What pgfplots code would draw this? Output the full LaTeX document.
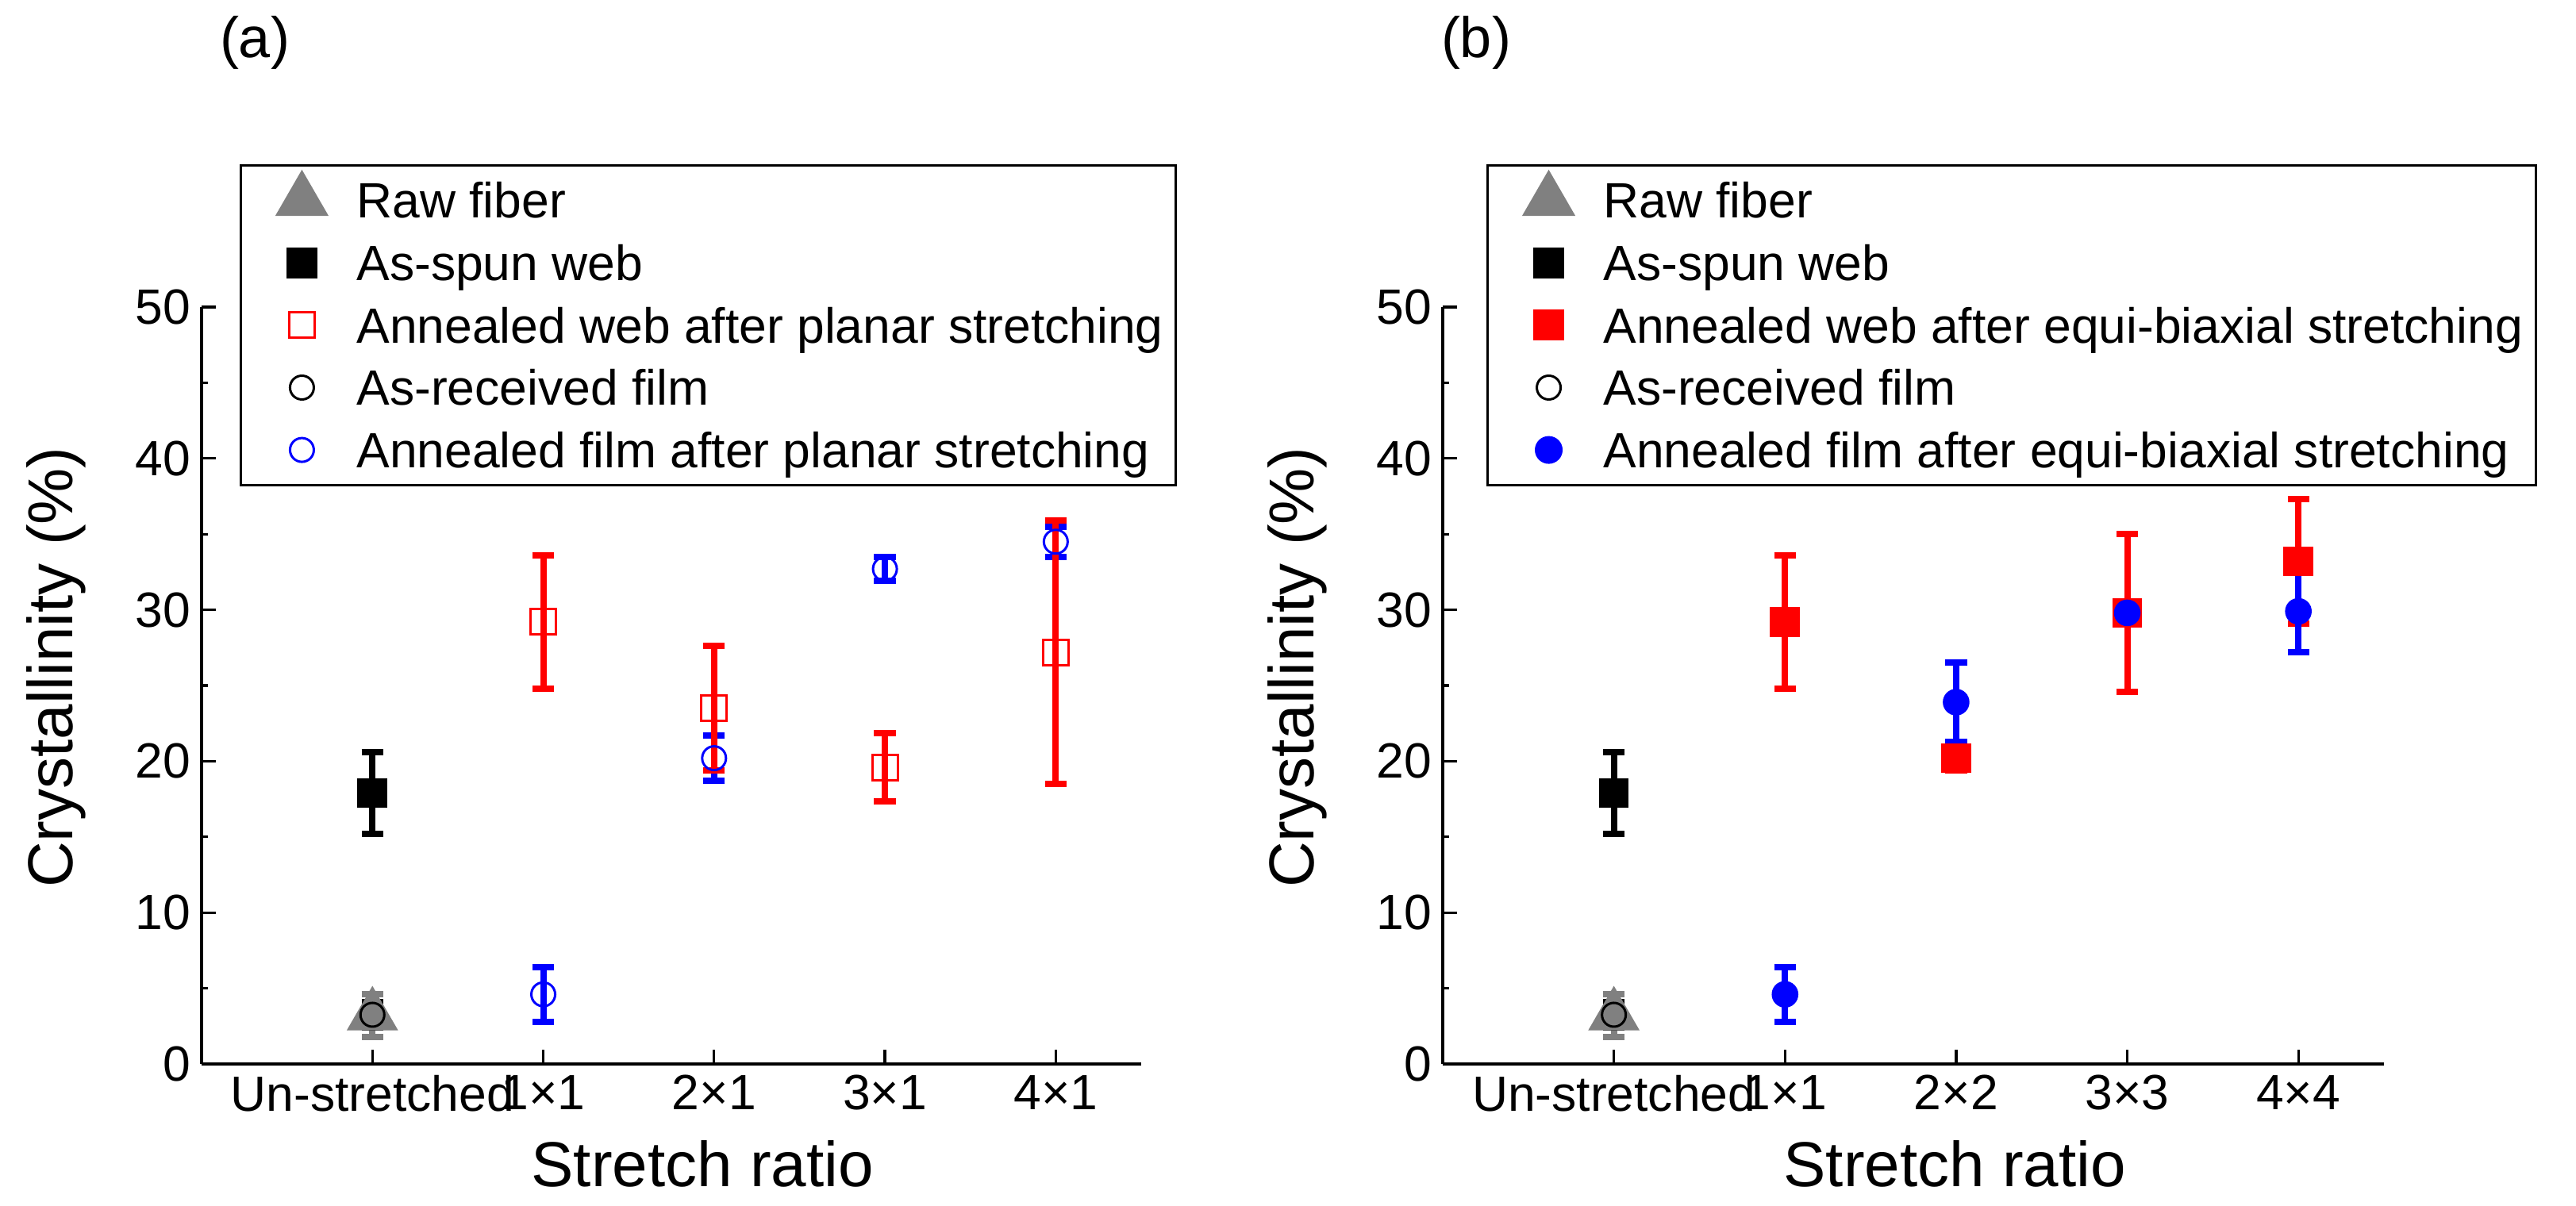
\documentclass[border=0pt]{standalone}
\usepackage{fontspec}
\setmainfont{Liberation Sans}
\usepackage{pgfplots}
\pgfplotsset{compat=1.18}
\definecolor{mygray}{RGB}{128,128,128}
\definecolor{myred}{RGB}{255,0,0}
\definecolor{myblue}{RGB}{0,0,255}
\newcommand{\tfont}{\fontsize{15.6}{18}\selectfont}
\newcommand{\lfont}{\fontsize{20}{24}\selectfont}
\pgfplotsset{
  panel/.style={
    scale only axis, height=238.5pt,
    xmin=-1, xmax=4.5, ymin=0, ymax=50,
    axis x line=bottom, axis y line=left,
    axis line style={line width=1pt, -},
    tick align=inside,
    xtick={0,1,2,3,4},
    ytick={0,10,...,50},
    minor y tick num=1,
    major tick length=4.6pt, minor tick length=2.1pt,
    tick style={line width=0.8pt, black},
    /pgf/number format/assume math mode=true,
    ticklabel style={font=\tfont},
    label style={font=\lfont},
    xlabel={Stretch ratio}, ylabel={Crystallinity (\%)},
    ylabel style={at={(axis description cs:-0.1546,0.524)}, anchor=center},
    clip=false,
    legend style={anchor=north west, draw=black, line width=0.75pt,
      inner xsep=4pt, inner ysep=5.5pt, font=\tfont,
      /tikz/row sep=8.55pt, /tikz/column sep=7.25pt,
      nodes={text height=11.1pt, text depth=0pt, inner sep=0pt},
      cells={anchor=west}},
  },
  limg/.style={legend image code/.code={\path[draw=none,fill=none] (-15.25pt,-5pt) rectangle (10pt,5pt); \draw[##1,overlay] plot coordinates {(0pt,0pt)};}},
  eb/.style={error bars/y dir=both, error bars/y explicit,
     error bars/error bar style={line width=2pt},
     error bars/error mark options={rotate=90, line width=2pt, mark size=3.4pt}},
}
\begin{document}
\begin{tikzpicture}
\path[use as bounding box] (0,0) rectangle (811.5pt,380pt);
\node[font=\fontsize{18}{20}\selectfont] at (80.25pt,366.5pt) {(a)};
\node[font=\fontsize{18}{20}\selectfont] at (465pt,366.5pt) {(b)};
% ---------------- panel (a)
\begin{axis}[panel, width=296pt, at={(63.5pt,44.75pt)}, anchor=south west,
  xticklabels={Un-stretched,1×1,2×1,3×1,4×1},
  xlabel style={at={(axis description cs:0.533,-0.132)}, anchor=center},
  legend style={at={(0.0405,1.1887)}}]
\addlegendimage{only marks, mark=triangle*, mark size=8.95pt, mygray, mark options={fill=mygray, draw=mygray}, limg}
\addlegendentry{Raw fiber}
\addlegendimage{only marks, mark=square*, mark size=4.5pt, black, mark options={fill=black}, limg}
\addlegendentry{As-spun web}
\addlegendimage{only marks, mark=square, mark size=4pt, myred, mark options={fill=white, line width=0.75pt}, limg}
\addlegendentry{Annealed web after planar stretching}
\addlegendimage{only marks, mark=o, mark size=3.75pt, black, mark options={fill=white, line width=0.75pt}, limg}
\addlegendentry{As-received film}
\addlegendimage{only marks, mark=o, mark size=3.75pt, myblue, mark options={fill=white, line width=0.75pt}, limg}
\addlegendentry{Annealed film after planar stretching}
% data
\addplot[forget plot, only marks, mygray, mark=triangle*, mark size=8.95pt, mark options={fill=mygray, draw=mygray}, eb]
  coordinates {(0,3.2) +- (0,1.4)};
\addplot[forget plot, only marks, black, mark=square*, mark size=4.5pt, mark options={fill=black}, eb]
  coordinates {(0,17.9) +- (0,2.7)};
\addplot[forget plot, only marks, black, mark=o, mark size=3.75pt, mark options={fill=white, line width=0.75pt}, eb]
  coordinates {(0,3.25) +- (0,0.85)};
\addplot[forget plot, only marks, myblue, mark=o, mark size=3.75pt, mark options={fill=white, line width=0.75pt}, eb]
  coordinates {(1,4.6) +- (0,1.8) (2,20.2) +- (0,1.5) (3,32.7) +- (0,0.8) (4,34.5) +- (0,1.0)};
\addplot[forget plot, only marks, myred, mark=square, mark size=4pt, mark options={fill=white, line width=0.75pt}, eb]
  coordinates {(1,29.2) +- (0,4.4) (2,23.5) +- (0,4.1) (3,19.6) +- (0,2.25) (4,27.2) +- (0,8.7)};
\end{axis}
% ---------------- panel (b)
\begin{axis}[panel, width=296.5pt, at={(454.5pt,44.75pt)}, anchor=south west,
  xticklabels={Un-stretched,1×1,2×2,3×3,4×4},
  xlabel style={at={(axis description cs:0.544,-0.132)}, anchor=center},
  legend style={at={(0.0464,1.1887)}}]
\addlegendimage{only marks, mark=triangle*, mark size=8.95pt, mygray, mark options={fill=mygray, draw=mygray}, limg}
\addlegendentry{Raw fiber}
\addlegendimage{only marks, mark=square*, mark size=4.5pt, black, mark options={fill=black}, limg}
\addlegendentry{As-spun web}
\addlegendimage{only marks, mark=square*, mark size=4.5pt, myred, mark options={fill=myred}, limg}
\addlegendentry{Annealed web after equi-biaxial stretching}
\addlegendimage{only marks, mark=o, mark size=3.75pt, black, mark options={fill=white, line width=0.75pt}, limg}
\addlegendentry{As-received film}
\addlegendimage{only marks, mark=*, mark size=4pt, myblue, mark options={fill=myblue}, limg}
\addlegendentry{Annealed film after equi-biaxial stretching}
% data
\addplot[forget plot, only marks, mygray, mark=triangle*, mark size=8.95pt, mark options={fill=mygray, draw=mygray}, eb]
  coordinates {(0,3.2) +- (0,1.4)};
\addplot[forget plot, only marks, black, mark=square*, mark size=4.5pt, mark options={fill=black}, eb]
  coordinates {(0,17.9) +- (0,2.7)};
\addplot[forget plot, only marks, black, mark=o, mark size=3.75pt, mark options={fill=white, line width=0.75pt}, eb]
  coordinates {(0,3.25) +- (0,0.85)};
\addplot[forget plot, only marks, myred, mark=square*, mark size=4.5pt, mark options={fill=myred}, eb]
  coordinates {(1,29.2) +- (0,4.4) (2,20.2) +- (0,0.8) (3,29.8) +- (0,5.2) (4,33.2) +- (0,4.1)};
\addplot[forget plot, only marks, myblue, mark=*, mark size=4pt, mark options={fill=myblue}, eb]
  coordinates {(1,4.6) +- (0,1.8) (2,23.9) +- (0,2.6) (3,29.8) +- (0,0.5) (4,29.9) +- (0,2.7)};
\end{axis}
\end{tikzpicture}
\end{document}
